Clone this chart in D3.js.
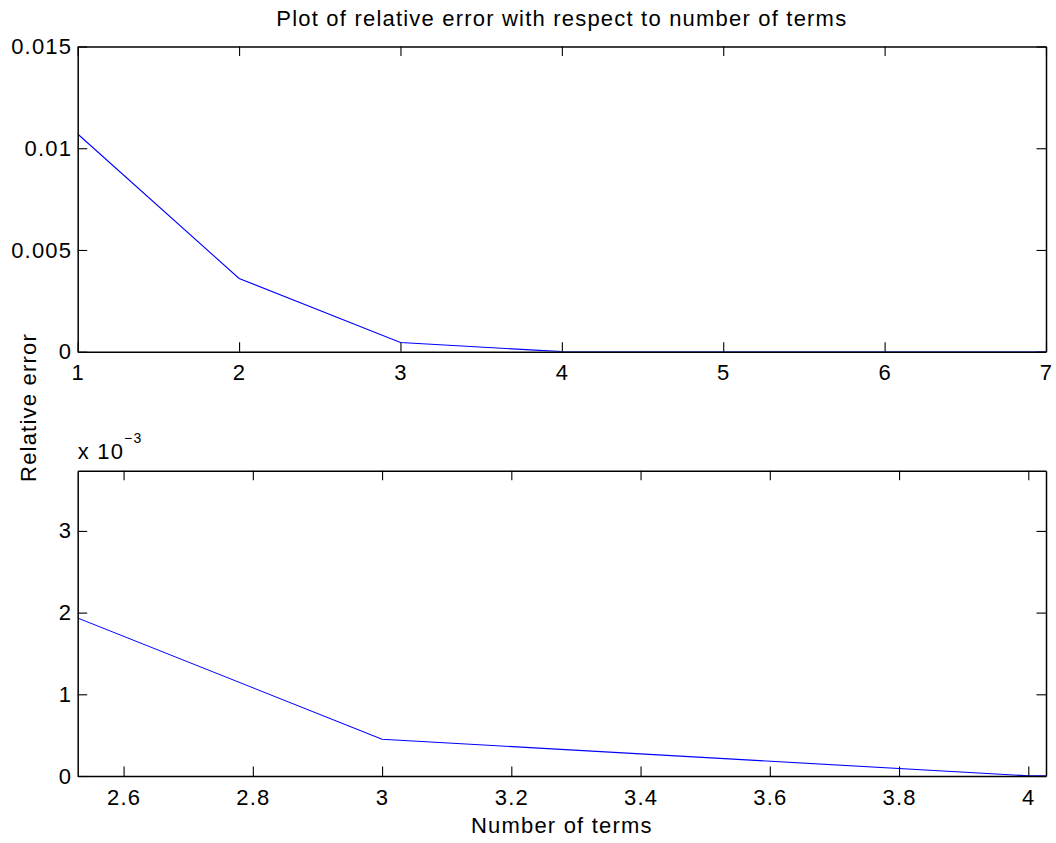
<!DOCTYPE html>
<html>
<head>
<meta charset="utf-8">
<script src="https://cdn.jsdelivr.net/npm/d3@7"></script>
<style>
    html, body { margin: 0; padding: 0; background: #fff; }
    svg { display: block; }
    text { font-family: "Liberation Sans", Arial, sans-serif; fill: #000; letter-spacing: 1.2px; }
</style>
</head>
<body>
<svg width="1056" height="843"></svg>
<script>
// data
var terms = [1, 2, 3, 4, 5, 6, 7];
var relError = [0.0107, 0.0036, 0.00045, 0.000002, 0, 0, 0];

var topXTicks = [1, 2, 3, 4, 5, 6, 7];
var topYTicks = [0, 0.005, 0.01, 0.015];
var topYLabels = ['0', '0.005', '0.01', '0.015'];

var botXTicks = [2.6, 2.8, 3, 3.2, 3.4, 3.6, 3.8, 4];
var botYTicks = [0, 0.001, 0.002, 0.003];
var botYLabels = ['0', '1', '2', '3'];

var points = terms.map(function (t, i) { return { x: t, y: relError[i] }; });

var svg = d3.select('svg');
var left = 77.7, right = 1046;
var tickLen = 9.5;
var fontSize = 22;

function drawPanel(opts) {
    var x = d3.scaleLinear().domain(opts.xDomain).range([left, right]);
    var y = d3.scaleLinear().domain(opts.yDomain).range([opts.bottom, opts.top]);
    var g = svg.append('g');

    g.append('clipPath').attr('id', opts.id)
        .append('rect')
        .attr('x', left).attr('y', opts.top)
        .attr('width', right - left).attr('height', opts.bottom - opts.top);

    var line = d3.line()
        .x(function (d) { return x(d.x); })
        .y(function (d) { return y(d.y); });

    g.append('path')
        .datum(points)
        .attr('clip-path', 'url(#' + opts.id + ')')
        .attr('d', line)
        .attr('fill', 'none')
        .attr('stroke', '#0000ff')
        .attr('stroke-width', 1.1);

    // axes on all four sides, ticks pointing inward, labels only bottom/left
    var xb = d3.axisBottom(x).tickValues(opts.xTicks).tickSizeInner(-tickLen).tickSizeOuter(0)
        .tickPadding(opts.xPad).tickFormat(opts.xFormat);
    var xt = d3.axisTop(x).tickValues(opts.xTicks).tickSizeInner(-tickLen).tickSizeOuter(0)
        .tickFormat('');
    var yl = d3.axisLeft(y).tickValues(opts.yTicks).tickSizeInner(-tickLen).tickSizeOuter(0)
        .tickPadding(5.5).tickFormat(function (d, i) { return opts.yLabels[i]; });
    var yr = d3.axisRight(y).tickValues(opts.yTicks).tickSizeInner(-tickLen).tickSizeOuter(0)
        .tickFormat('');

    var axes = [
        g.append('g').attr('transform', 'translate(0,' + opts.bottom + ')').call(xb),
        g.append('g').attr('transform', 'translate(0,' + opts.top + ')').call(xt),
        g.append('g').attr('transform', 'translate(' + left + ',0)').call(yl),
        g.append('g').attr('transform', 'translate(' + right + ',0)').call(yr)
    ];
    axes.forEach(function (a) {
        a.select('.domain').attr('stroke', '#000').attr('stroke-width', 1.5);
        a.selectAll('.tick line').attr('stroke', '#000').attr('stroke-width', 1.1);
        a.selectAll('.tick text')
            .style('font-family', '"Liberation Sans", Arial, sans-serif')
            .style('font-size', fontSize + 'px')
            .attr('fill', '#000');
    });
    return g;
}

drawPanel({
    id: 'clipTop', top: 46.5, bottom: 351.7,
    xDomain: [1, 7], yDomain: [0, 0.015],
    xTicks: topXTicks, yTicks: topYTicks, yLabels: topYLabels,
    xFormat: d3.format('d'), xPad: 13
});

drawPanel({
    id: 'clipBot', top: 470.7, bottom: 776,
    xDomain: [2.529, 4.0274], yDomain: [0, 0.003737],
    xTicks: botXTicks, yTicks: botYTicks, yLabels: botYLabels,
    xFormat: function (d) { return String(+d.toFixed(1)); }, xPad: 13.5
});

// title, labels, exponent
svg.append('text')
    .attr('x', (left + right) / 2).attr('y', 26)
    .attr('text-anchor', 'middle')
    .style('font-size', fontSize + 'px')
    .text('Plot of relative error with respect to number of terms');

svg.append('text')
    .attr('x', (left + right) / 2).attr('y', 833)
    .attr('text-anchor', 'middle')
    .style('font-size', fontSize + 'px')
    .text('Number of terms');

svg.append('text')
    .attr('transform', 'translate(35.5,407.5) rotate(-90)')
    .attr('text-anchor', 'middle')
    .style('font-size', fontSize + 'px')
    .text('Relative error');

var expo = svg.append('text')
    .attr('x', left).attr('y', 459.3)
    .style('font-size', fontSize + 'px');
expo.append('tspan').text('x 10');
expo.append('tspan').attr('dy', -16).style('font-size', '14px').text('\u22123');
</script>
</body>
</html>
